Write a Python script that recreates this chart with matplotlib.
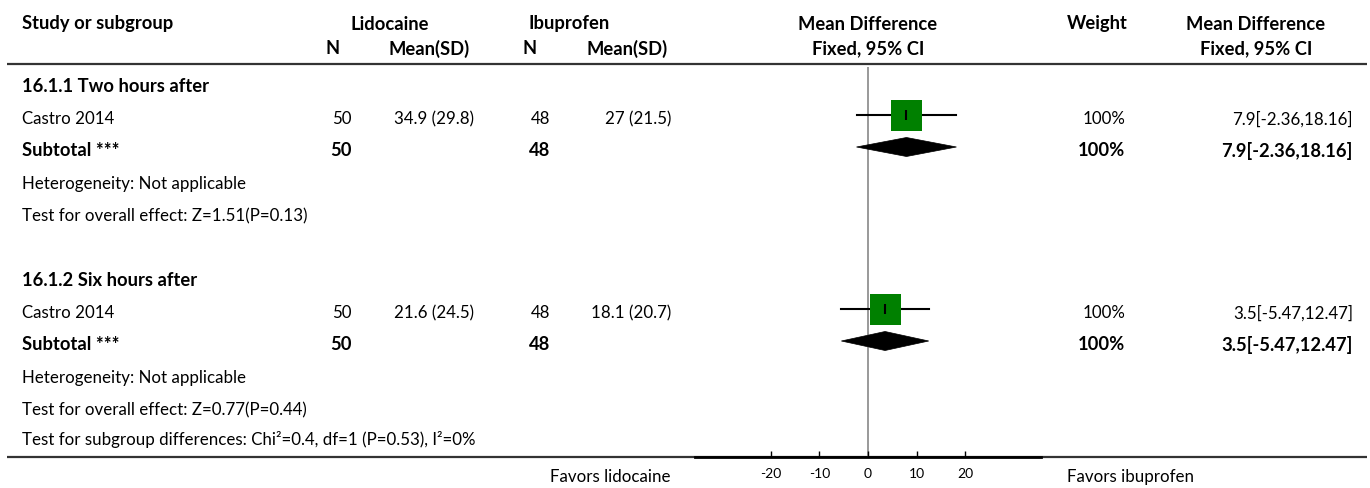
import matplotlib
matplotlib.use("Agg")
import matplotlib.pyplot as plt
from matplotlib.patches import Polygon

plt.rcParams['font.family'] = ['Lato', 'DejaVu Sans']

# ---------------- data ----------------
group_titles = ["16.1.1 Two hours after", "16.1.2 Six hours after"]
study_names = ["Castro 2014", "Castro 2014"]
lido_n = [50, 50]
lido_mean = [34.9, 21.6]
lido_sd = [29.8, 24.5]
ibu_n = [48, 48]
ibu_mean = [27, 18.1]
ibu_sd = [21.5, 20.7]
md = [7.9, 3.5]
md_lo = [-2.36, -5.47]
md_hi = [18.16, 12.47]
weights = [100, 100]
heterogeneity = ["Not applicable", "Not applicable"]
overall_effect = ["Z=1.51(P=0.13)", "Z=0.77(P=0.44)"]
subgroup_test = "Chi\u00b2=0.4, df=1 (P=0.53), I\u00b2=0%"
x_ticks = [-20, -10, 0, 10, 20]
left_label = "Favors lidocaine"
right_label = "Favors ibuprofen"

# ---------------- layout ----------------
W, H = 1370, 489
fig = plt.figure(figsize=(W / 100, H / 100), dpi=100)
tax = fig.add_axes([0, 0, 1, 1])
tax.set_xlim(0, W)
tax.set_ylim(H, 0)
tax.axis('off')

FS = 12.2
FSB = 13.2
DY = 2
col_study = 22
col_ln = 352
col_lm = 474
col_in = 550
col_im = 671
col_forest = 868
col_w = 1125
col_ci = 1353

def t(x, y, s, ha='left', bold=False):
    tax.text(x, y + DY, s, ha=ha, va='center', fontsize=FSB if bold else FS,
             fontweight='bold' if bold else 'normal', color='black')

# headers
t(col_study, 22, "Study or subgroup", bold=True)
t(390, 22, "Lidocaine", ha='center', bold=True)
t(569, 22, "Ibuprofen", ha='center', bold=True)
t(col_forest, 22, "Mean Difference", ha='center', bold=True)
t(1097, 22, "Weight", ha='center', bold=True)
t(1256, 22, "Mean Difference", ha='center', bold=True)
t(333, 47, "N", ha='center', bold=True)
t(429, 47, "Mean(SD)", ha='center', bold=True)
t(530, 47, "N", ha='center', bold=True)
t(627, 47, "Mean(SD)", ha='center', bold=True)
t(col_forest, 47, "Fixed, 95% CI", ha='center', bold=True)
t(1256, 47, "Fixed, 95% CI", ha='center', bold=True)

tax.plot([7, 1367], [65, 65], color='#333333', lw=1.6, solid_capstyle='butt')
tax.plot([7, 1367], [458, 458], color='#333333', lw=1.6, solid_capstyle='butt')

group_y0 = [84, 278]
study_rows = []
sub_rows = []
for i in range(len(group_titles)):
    y0 = group_y0[i]
    ys, yst, yh, yt = y0 + 33, y0 + 65, y0 + 98, y0 + 130
    study_rows.append(ys)
    sub_rows.append(yst)
    t(col_study, y0, group_titles[i], bold=True)
    t(col_study, ys, study_names[i])
    t(col_ln, ys, f"{lido_n[i]}", ha='right')
    t(col_lm, ys, f"{lido_mean[i]:g} ({lido_sd[i]:g})", ha='right')
    t(col_in, ys, f"{ibu_n[i]}", ha='right')
    t(col_im, ys, f"{ibu_mean[i]:g} ({ibu_sd[i]:g})", ha='right')
    t(col_w, ys, f"{weights[i]:g}%", ha='right')
    t(col_ci, ys, f"{md[i]:g}[{md_lo[i]:g},{md_hi[i]:g}]", ha='right')
    t(col_study, yst, "Subtotal ***", bold=True)
    t(col_ln, yst, f"{lido_n[i]}", ha='right', bold=True)
    t(col_in, yst, f"{ibu_n[i]}", ha='right', bold=True)
    t(col_w, yst, f"{weights[i]:g}%", ha='right', bold=True)
    t(col_ci, yst, f"{md[i]:g}[{md_lo[i]:g},{md_hi[i]:g}]", ha='right', bold=True)
    t(col_study, yh, "Heterogeneity: " + heterogeneity[i])
    t(col_study, yt, "Test for overall effect: " + overall_effect[i])

t(col_study, 438, "Test for subgroup differences: " + subgroup_test)
t(671, 475, left_label, ha='right')
t(1067, 475, right_label, ha='left')

# ---------------- forest axes ----------------
px_per_unit = 4.87
xmin, xmax = -35.6, 35.6
ax_left = col_forest + xmin * px_per_unit
ax_w = (xmax - xmin) * px_per_unit
ytop, ybot = 68, 458
fax = fig.add_axes([ax_left / W, (H - ybot) / H, ax_w / W, (ybot - ytop) / H])
fax.set_xlim(xmin, xmax)
fax.set_ylim(ybot, ytop)
fax.patch.set_alpha(0)
for s in ['top', 'left', 'right']:
    fax.spines[s].set_visible(False)
fax.spines['bottom'].set_linewidth(2.0)
fax.spines['bottom'].set_color('black')
fax.set_yticks([])
fax.set_xticks(x_ticks)
fax.set_xticklabels([str(v) for v in x_ticks])
fax.tick_params(axis='x', direction='in', length=4, width=1, labelsize=10, pad=7, colors='black')

fax.axvline(0, color='#888888', lw=1.2, zorder=1)

box_half_px = 15.5
for i in range(len(md)):
    y = study_rows[i] - 1
    fax.plot([md_lo[i], md_hi[i]], [y, y], color='black', lw=1.5, zorder=2)
    fax.plot([md[i]], [y], marker='s', markersize=2 * box_half_px * 0.72 * weights[i] / 100,
             color='#008000', markeredgewidth=0, zorder=3)
    fax.plot([md[i]], [y], marker='|', markersize=7, color='black', markeredgewidth=1.5, zorder=4)
    yd = sub_rows[i] - 1
    hh = 9.5
    dia = Polygon([[md_lo[i], yd], [md[i], yd - hh], [md_hi[i], yd], [md[i], yd + hh]],
                  closed=True, facecolor='black', edgecolor='black', lw=0.5, zorder=3)
    fax.add_patch(dia)

fig.savefig("out.png", dpi=100)
